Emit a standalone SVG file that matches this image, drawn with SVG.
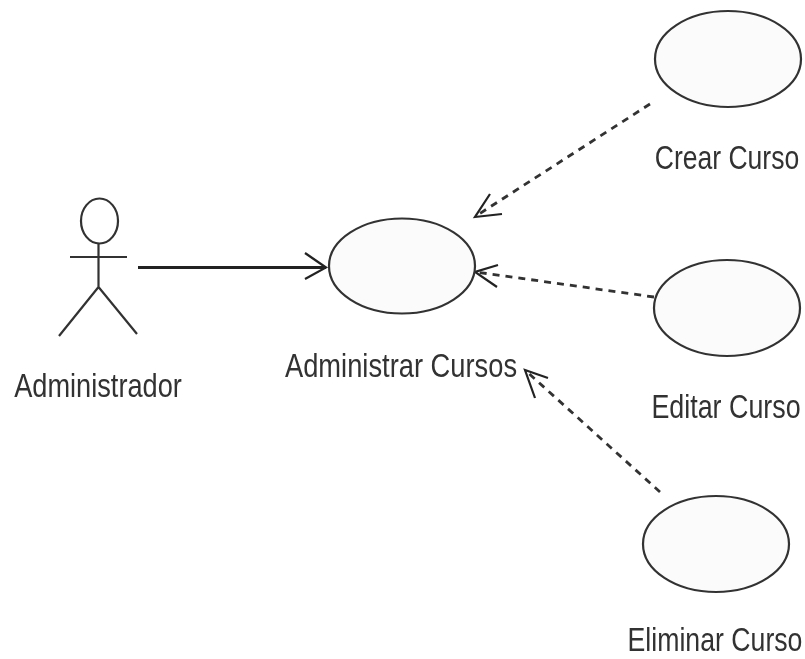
<svg xmlns="http://www.w3.org/2000/svg" width="805" height="659" viewBox="0 0 805 659">
<defs>
<filter id="soft" x="-5%" y="-5%" width="110%" height="110%"><feGaussianBlur stdDeviation="0.6"/></filter>
</defs>
<style>
.bg{fill:#fff}
.uc{fill:#fbfbfb;stroke:#333;stroke-width:2.2}
.act{fill:none;stroke:#333;stroke-width:2.2}
.lbl{font-family:"Liberation Sans",Arial,sans-serif;font-size:34px;fill:#333;text-anchor:middle}
.solid{fill:none;stroke:#222;stroke-width:3.2}
.dash{fill:none;stroke:#333;stroke-width:2.8;stroke-dasharray:7 6}
.head{fill:none;stroke:#222;stroke-width:2.2}
</style>
<rect class="bg" width="805" height="659"/>
<g filter="url(#soft)">
<g id="connectors">
<path class="solid" d="M138 267.500H326"/>
<path class="head" d="M305 253L326 267.500L305 279"/>
<path class="dash" d="M650 104L476 216"/>
<path class="head" d="M490 194L475 217L502 214"/>
<path class="dash" d="M654 297L476 272"/>
<path class="head" d="M498 265L475 272L497 287"/>
<path class="dash" d="M660 492L525 370"/>
<path class="head" d="M548 378L525 370L535 398"/>
</g>
<g id="administrador">
<ellipse class="act" cx="99.500" cy="221" rx="18.500" ry="22.500"/>
<path class="act" d="M98.500 244V287M70 257H127M98.500 287L59 336M98.500 287L137 334"/>
<text class="lbl" transform="translate(98 397) scale(.8 1)">Administrador</text>
</g>
<g id="administrar-cursos">
<ellipse class="uc" cx="402" cy="266" rx="73" ry="47.500"/>
<text class="lbl" transform="translate(401 377) scale(.803 1)">Administrar Cursos</text>
</g>
<g id="crear-curso">
<ellipse class="uc" cx="728" cy="59" rx="73" ry="48"/>
<text class="lbl" transform="translate(727 169) scale(.78 1)">Crear Curso</text>
</g>
<g id="editar-curso">
<ellipse class="uc" cx="727" cy="308" rx="73" ry="48"/>
<text class="lbl" transform="translate(726 418) scale(.79 1)">Editar Curso</text>
</g>
<g id="eliminar-curso">
<ellipse class="uc" cx="716" cy="544" rx="73" ry="48"/>
<text class="lbl" transform="translate(715 651) scale(.785 1)">Eliminar Curso</text>
</g>
</g>
</svg>
